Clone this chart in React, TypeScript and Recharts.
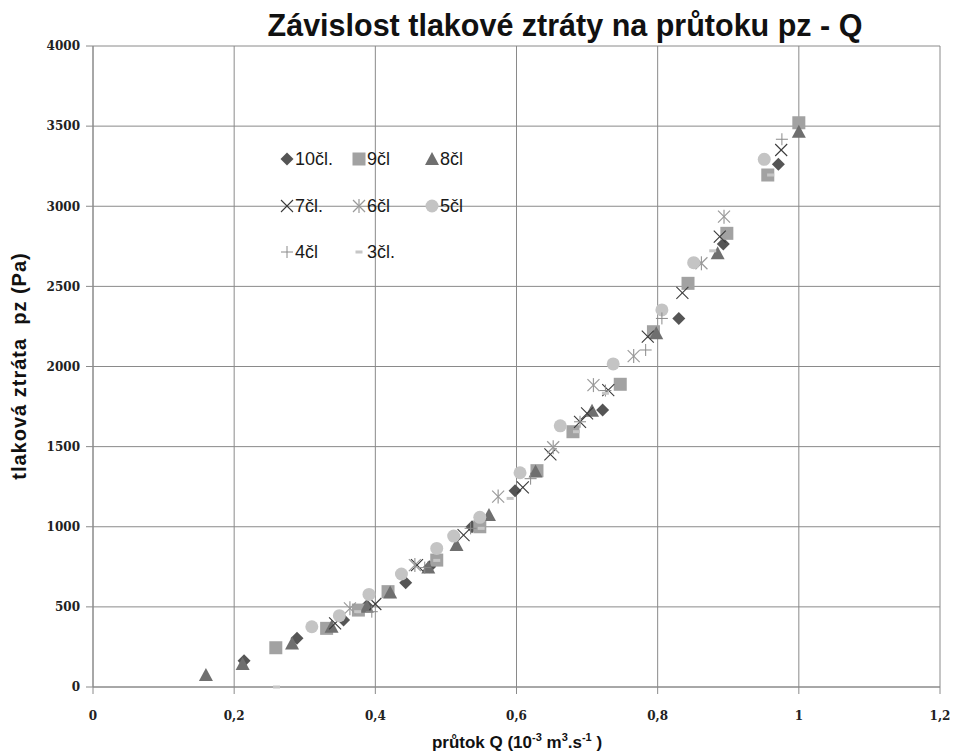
import React from 'react';
import {
    ScatterChart, Scatter, XAxis, YAxis, CartesianGrid,
} from 'recharts';

// průtok Q (10^-3 m3/s) and tlaková ztráta pz (Pa), one pair per článek count
const Q_10 = [0.214, 0.289, 0.355, 0.388, 0.443, 0.477, 0.537, 0.598, 0.722, 0.83, 0.893, 0.971];
const P_10 = [164, 304, 418, 507, 651, 751, 1000, 1225, 1728, 2300, 2764, 3262];

const Q_9 = [0.259, 0.331, 0.376, 0.418, 0.487, 0.548, 0.629, 0.68, 0.747, 0.794, 0.843, 0.898, 0.956, 1.0];
const P_9 = [245, 366, 480, 595, 792, 1000, 1350, 1593, 1889, 2217, 2519, 2831, 3195, 3521];

const Q_8 = [0.16, 0.212, 0.282, 0.338, 0.388, 0.421, 0.475, 0.515, 0.561, 0.627, 0.707, 0.798, 0.885, 1.0];
const P_8 = [75, 144, 272, 376, 501, 590, 745, 886, 1073, 1345, 1724, 2207, 2706, 3465];

const Q_7 = [0.343, 0.4, 0.459, 0.525, 0.609, 0.648, 0.69, 0.7, 0.73, 0.786, 0.835, 0.888, 0.975];
const P_7 = [397, 518, 761, 948, 1246, 1452, 1655, 1708, 1853, 2186, 2460, 2810, 3351];

const Q_6 = [0.364, 0.456, 0.574, 0.652, 0.709, 0.766, 0.862, 0.894];
const P_6 = [491, 761, 1188, 1496, 1884, 2065, 2644, 2935];

const Q_5 = [0.31, 0.349, 0.391, 0.437, 0.487, 0.511, 0.548, 0.605, 0.662, 0.737, 0.806, 0.851, 0.951];
const P_5 = [376, 445, 578, 705, 865, 942, 1059, 1337, 1630, 2016, 2353, 2648, 3293];

const Q_4 = [0.395, 0.47, 0.535, 0.62, 0.69, 0.726, 0.783, 0.806, 0.976];
const P_4 = [470, 745, 990, 1300, 1655, 1850, 2103, 2300, 3418];

const Q_3 = [0.26, 0.375, 0.487, 0.55, 0.591, 0.685, 0.726, 0.878, 0.96];
const P_3 = [0, 470, 790, 990, 1177, 1593, 1833, 2722, 3195];

const X_TICKS = [0, 0.2, 0.4, 0.6, 0.8, 1, 1.2];
const Y_TICKS = [0, 500, 1000, 1500, 2000, 2500, 3000, 3500, 4000];

const zip = (q: number[], p: number[]) => q.map((x, i) => ({ q: x, p: p[i] }));

type Kind = 'diamond' | 'square' | 'triangle' | 'x' | 'star' | 'circle' | 'plus' | 'dash';

const SERIES: { name: string; kind: Kind; color: string; data: { q: number; p: number }[] }[] = [
    { name: '10čl.', kind: 'diamond', color: '#555555', data: zip(Q_10, P_10) },
    { name: '9čl', kind: 'square', color: '#a2a2a2', data: zip(Q_9, P_9) },
    { name: '8čl', kind: 'triangle', color: '#6f6f6f', data: zip(Q_8, P_8) },
    { name: '7čl.', kind: 'x', color: '#3a3a3a', data: zip(Q_7, P_7) },
    { name: '6čl', kind: 'star', color: '#9a9a9a', data: zip(Q_6, P_6) },
    { name: '5čl', kind: 'circle', color: '#c4c4c4', data: zip(Q_5, P_5) },
    { name: '4čl', kind: 'plus', color: '#8a8a8a', data: zip(Q_4, P_4) },
    { name: '3čl.', kind: 'dash', color: '#c6c6c6', data: zip(Q_3, P_3) },
];

function Marker({ kind, color, cx, cy }: { kind: Kind; color: string; cx: number; cy: number }) {
    switch (kind) {
        case 'diamond':
            return <polygon points={`${cx},${cy - 6.5} ${cx + 6.5},${cy} ${cx},${cy + 6.5} ${cx - 6.5},${cy}`} fill={color} />;
        case 'square':
            return <rect x={cx - 6.5} y={cy - 6.5} width={13} height={13} fill={color} />;
        case 'triangle':
            return <polygon points={`${cx},${cy - 7} ${cx + 7},${cy + 6} ${cx - 7},${cy + 6}`} fill={color} />;
        case 'circle':
            return <circle cx={cx} cy={cy} r={6.5} fill={color} />;
        case 'x':
            return (
                <g stroke={color} strokeWidth={1.1}>
                    <line x1={cx - 6} y1={cy - 6} x2={cx + 6} y2={cy + 6} />
                    <line x1={cx - 6} y1={cy + 6} x2={cx + 6} y2={cy - 6} />
                </g>
            );
        case 'star':
            return (
                <g stroke={color} strokeWidth={1.2}>
                    <line x1={cx} y1={cy - 7} x2={cx} y2={cy + 7} />
                    <line x1={cx - 6} y1={cy - 6} x2={cx + 6} y2={cy + 6} />
                    <line x1={cx - 6} y1={cy + 6} x2={cx + 6} y2={cy - 6} />
                </g>
            );
        case 'plus':
            return (
                <g stroke={color} strokeWidth={1}>
                    <line x1={cx} y1={cy - 6} x2={cx} y2={cy + 6} />
                    <line x1={cx - 6} y1={cy} x2={cx + 6} y2={cy} />
                </g>
            );
        case 'dash':
            return <rect x={cx - 3.5} y={cy - 1.5} width={7} height={3} fill={color} />;
    }
    return null;
}

const fmtX = (v: number) => String(v).replace('.', ',');

// legend slots: marker centres, three per row
const LEG_X = [287, 359, 432];
const LEG_Y = [159, 206, 252];

function LegendBox() {
    return (
        <>
            {SERIES.map((s, i) => {
                const cx = LEG_X[i % 3];
                const cy = LEG_Y[Math.floor(i / 3)];
                return (
                    <div key={s.name} style={{ position: 'absolute', left: cx - 8, top: cy - 11, height: 22, display: 'flex', alignItems: 'center', whiteSpace: 'nowrap', fontFamily: '"Liberation Sans", Arial, sans-serif', fontSize: 18, color: '#1a1a1a' }}>
                        <svg width={16} height={18} style={{ display: 'block' }}>
                            <Marker kind={s.kind} color={s.color} cx={8} cy={9} />
                        </svg>
                        <span>{s.name}</span>
                    </div>
                );
            })}
        </>
    );
}

const supStyle = { fontSize: 11, lineHeight: 0 };

export default function App() {
    return (
        <div style={{ position: 'absolute', left: 0, top: 0, width: 954, height: 753, background: '#fff', overflow: 'hidden' }}>
            <ScatterChart width={954} height={753} margin={{ top: 46, right: 14, bottom: 0, left: 33 }}>
                <CartesianGrid stroke="#8a8a8a" strokeWidth={1} />
                <XAxis
                    type="number"
                    dataKey="q"
                    domain={[0, 1.2]}
                    ticks={X_TICKS}
                    tickFormatter={fmtX}
                    height={66}
                    stroke="#8a8a8a"
                    tickSize={7}
                    tickMargin={17}
                    tick={{ fontSize: 12, fill: '#222', fontFamily: '"DejaVu Serif", serif', fontWeight: 'bold' }}
                    interval={0}
                />
                <YAxis
                    type="number"
                    dataKey="p"
                    domain={[0, 4000]}
                    ticks={Y_TICKS}
                    width={60}
                    stroke="#8a8a8a"
                    tickSize={7}
                    tickMargin={6}
                    tick={{ fontSize: 12, fill: '#222', fontFamily: '"DejaVu Serif", serif', fontWeight: 'bold' }}
                    interval={0}
                />
                {SERIES.map((s) => (
                    <Scatter
                        key={s.name}
                        name={s.name}
                        data={s.data}
                        isAnimationActive={false}
                        shape={(props: any) => <Marker kind={s.kind} color={s.color} cx={props.cx} cy={props.cy} />}
                    />
                ))}
            </ScatterChart>
            <LegendBox />
            <div style={{ position: 'absolute', left: 565, top: 8, transform: 'translateX(-50%)', whiteSpace: 'nowrap', fontFamily: '"Liberation Sans", Arial, sans-serif', fontWeight: 'bold', fontSize: 30.5, color: '#111' }}>
                Závislost tlakové ztráty na průtoku pz - Q
            </div>
            <div style={{ position: 'absolute', left: 19, top: 366, transform: 'translate(-50%, -50%) rotate(-90deg)', whiteSpace: 'nowrap', fontFamily: '"Liberation Sans", Arial, sans-serif', fontWeight: 'bold', fontSize: 20, letterSpacing: 1, color: '#111' }}>
                tlaková ztráta&nbsp; pz (Pa)
            </div>
            <div style={{ position: 'absolute', left: 517, top: 733, transform: 'translateX(-50%)', whiteSpace: 'nowrap', fontFamily: '"Liberation Sans", Arial, sans-serif', fontWeight: 'bold', fontSize: 17, color: '#111', lineHeight: '20px' }}>
                průtok Q (10<sup style={supStyle}>-3</sup> m<sup style={supStyle}>3</sup>.s<sup style={supStyle}>-1</sup> )
            </div>
        </div>
    );
}
